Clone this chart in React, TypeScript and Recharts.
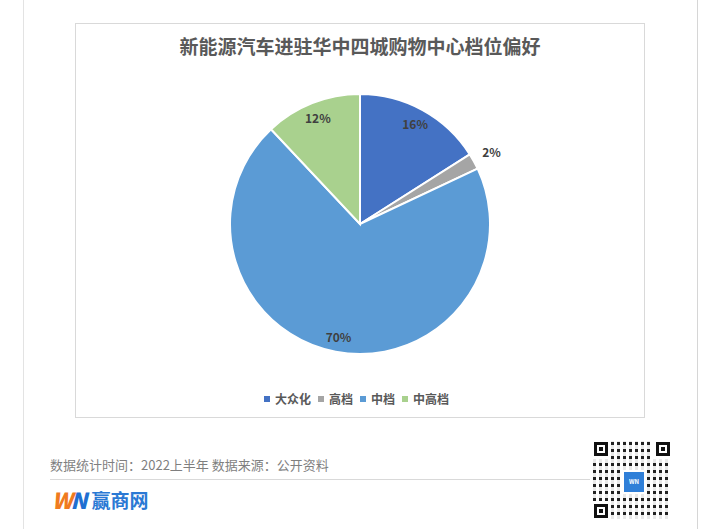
import React from "react";
import { PieChart, Pie, Cell, Legend } from "recharts";

const categories = ["大众化", "高档", "中档", "中高档"];
const shares = [16, 2, 70, 12];
const colors = ["#4472C4", "#A5A5A5", "#5B9BD5", "#A9D18E"];

const title = "新能源汽车进驻华中四城购物中心档位偏好";
const footnote = "数据统计时间：2022上半年 数据来源：公开资料";

const data = categories.map((name, i) => ({ name, value: shares[i] }));

const FONT = '"Noto Sans CJK SC", "Noto Sans", sans-serif';
const RAD = Math.PI / 180;

const renderLabel = (props: any) => {
    const { cx, cy, midAngle, outerRadius, value } = props;
    // tiny slices get their label outside the pie
    const r = value < 5 ? outerRadius + 20 : outerRadius * 0.88;
    const x = cx + r * Math.cos(-midAngle * RAD);
    const y = cy + r * Math.sin(-midAngle * RAD);
    return (
        <text
            x={x}
            y={y}
            fill="#404040"
            fontSize={12}
            fontWeight="bold"
            fontFamily={FONT}
            textAnchor="middle"
            dominantBaseline="central"
        >
            {`${value}%`}
        </text>
    );
};

const renderLegend = () => (
    <div
        style={{
            display: "flex",
            justifyContent: "center",
            alignItems: "center",
            fontFamily: FONT,
            fontSize: 12,
            fontWeight: "bold",
            color: "#595959",
        }}
    >
        {categories.map((c, i) => (
            <span key={c} style={{ display: "flex", alignItems: "center", marginRight: 7 }}>
                <span style={{ width: 6, height: 6, background: colors[i], marginRight: 5, display: "inline-block" }} />
                {c}
            </span>
        ))}
    </div>
);

function FakeQr() {
    const finder = (left: number, top: number) => (
        <div
            style={{
                position: "absolute",
                left,
                top,
                width: 14,
                height: 14,
                border: "3px solid #111",
                boxSizing: "border-box",
                display: "flex",
                alignItems: "center",
                justifyContent: "center",
            }}
        >
            <div style={{ width: 4, height: 4, background: "#111" }} />
        </div>
    );
    return (
        <div
            style={{
                position: "absolute",
                left: 593,
                top: 441,
                width: 78,
                height: 78,
                background:
                    "repeating-linear-gradient(90deg, #222 0 3px, #fff 3px 6px), #fff",
            }}
        >
            <div
                style={{
                    position: "absolute",
                    inset: 0,
                    background: "repeating-linear-gradient(0deg, rgba(255,255,255,0.9) 0 4px, transparent 4px 7px)",
                }}
            />
            <div style={{ position: "absolute", left: 0, top: 0, width: 18, height: 18, background: "#fff" }} />
            <div style={{ position: "absolute", right: 0, top: 0, width: 18, height: 18, background: "#fff" }} />
            <div style={{ position: "absolute", left: 0, bottom: 0, width: 18, height: 18, background: "#fff" }} />
            {finder(1, 1)}
            {finder(63, 1)}
            {finder(1, 63)}
            <div
                style={{
                    position: "absolute",
                    left: 29,
                    top: 29,
                    width: 20,
                    height: 20,
                    background: "#2f7fd8",
                    border: "2px solid #fff",
                    color: "#fff",
                    fontSize: 6,
                    fontWeight: "bold",
                    fontFamily: FONT,
                    textAlign: "center",
                    lineHeight: "20px",
                }}
            >
                WN
            </div>
        </div>
    );
}

export default function App() {
    return (
        <div
            style={{
                position: "absolute",
                left: 0,
                top: 0,
                width: 712,
                height: 529,
                background: "#fff",
                overflow: "hidden",
                fontFamily: FONT,
            }}
        >
            <div style={{ position: "absolute", left: 23, top: 0, width: 1, height: 529, background: "#e3e3e3" }} />
            <div style={{ position: "absolute", left: 697, top: 0, width: 1, height: 529, background: "#d6d6d6" }} />

            <div
                style={{
                    position: "absolute",
                    left: 75,
                    top: 23,
                    width: 570,
                    height: 395,
                    border: "1px solid #d9d9d9",
                    boxSizing: "border-box",
                }}
            >
                <div
                    style={{
                        position: "absolute",
                        left: 0,
                        top: 8,
                        width: 568,
                        textAlign: "center",
                        fontSize: 19,
                        fontWeight: "bold",
                        color: "#595959",
                    }}
                >
                    {title}
                </div>
                <div style={{ position: "absolute", left: 0, top: 0 }}>
                    <PieChart width={568} height={393}>
                        <Pie
                            data={data}
                            dataKey="value"
                            nameKey="name"
                            cx={279}
                            cy={195}
                            outerRadius={130}
                            startAngle={90}
                            endAngle={-270}
                            stroke="#fff"
                            strokeWidth={2}
                            label={renderLabel}
                            labelLine={false}
                            isAnimationActive={false}
                        >
                            {data.map((d, i) => (
                                <Cell key={d.name} fill={colors[i]} />
                            ))}
                        </Pie>
                        <Legend
                            content={renderLegend}
                            wrapperStyle={{ top: 366, left: 0, width: 568 }}
                        />
                    </PieChart>
                </div>
            </div>

            <div
                style={{
                    position: "absolute",
                    left: 50,
                    top: 455,
                    fontSize: 13,
                    color: "#7f7f7f",
                    whiteSpace: "nowrap",
                }}
            >
                {footnote}
            </div>
            <div style={{ position: "absolute", left: 50, top: 479, width: 540, height: 1, background: "#d9d9d9" }} />
            <div
                style={{
                    position: "absolute",
                    left: 52,
                    top: 483,
                    display: "flex",
                    alignItems: "center",
                    whiteSpace: "nowrap",
                }}
            >
                <span style={{ fontSize: 22, fontWeight: 900, fontStyle: "italic", color: "#f07b1e", letterSpacing: -2 }}>W</span>
                <span style={{ fontSize: 22, fontWeight: 900, fontStyle: "italic", color: "#1f6fd1", marginRight: 4 }}>N</span>
                <span style={{ fontSize: 19, fontWeight: "bold", color: "#2a79d4" }}>赢商网</span>
            </div>
            <FakeQr />
        </div>
    );
}
